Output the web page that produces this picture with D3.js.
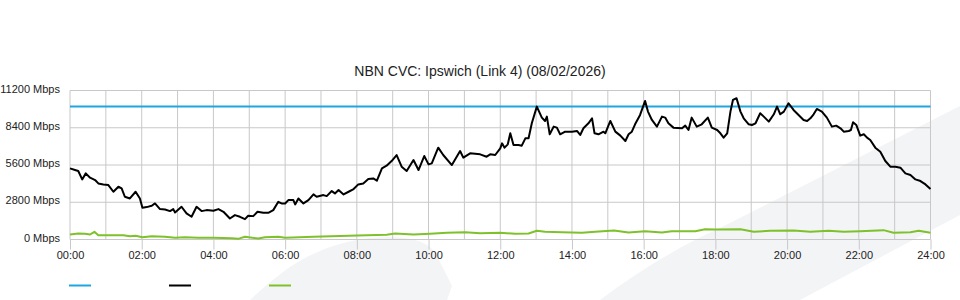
<!DOCTYPE html>
<html>
<head>
<meta charset="utf-8">
<script src="https://cdn.jsdelivr.net/npm/d3@7"></script>
<style>
  body { margin: 0; background: #fff; }
  svg { display: block; font-family: "Liberation Sans", Arial, sans-serif; }
</style>
</head>
<body>
<div class="chart"></div>
<script>
// link capacity (flat)
const capTimes = [0, 24];
const capMbps = [10000, 10000];

// download traffic, hours -> Mbps
const dlTimes = [0, 0.14, 0.23, 0.34, 0.44, 0.56, 0.70, 0.79, 0.93, 1.07, 1.21, 1.35, 1.44, 1.53, 1.67, 1.83, 1.95,
  2.02, 2.14, 2.28, 2.37, 2.51, 2.65, 2.79, 2.88, 2.93, 3.11, 3.25, 3.39, 3.53, 3.67, 3.81, 4.0, 4.14, 4.28, 4.46,
  4.6, 4.74, 4.88, 4.97, 5.11, 5.23, 5.39, 5.53, 5.67, 5.81, 5.9, 6.0, 6.09, 6.23, 6.28, 6.37, 6.51, 6.65, 6.79,
  6.88, 7.07, 7.16, 7.3, 7.39, 7.49, 7.63, 7.77, 7.91, 8.04, 8.18, 8.32, 8.46, 8.56, 8.7, 8.83, 8.97, 9.11, 9.25,
  9.39, 9.58, 9.72, 9.88, 10.0, 10.09, 10.27, 10.41, 10.65, 10.88, 10.97, 11.16, 11.44, 11.62, 11.72, 11.86,
  12.0, 12.05, 12.12, 12.21, 12.28, 12.37, 12.51, 12.6, 12.7, 12.79, 12.88, 13.02, 13.16, 13.25, 13.3, 13.38,
  13.49, 13.58, 13.67, 13.81, 14.0, 14.14, 14.23, 14.32, 14.46, 14.56, 14.63, 14.74, 14.88, 14.93, 15.07, 15.21,
  15.35, 15.49, 15.58, 15.67, 15.76, 15.9, 16.04, 16.12, 16.23, 16.37, 16.51, 16.6, 16.69, 16.83, 17.07, 17.16,
  17.25, 17.34, 17.48, 17.62, 17.79, 17.9, 18.05, 18.14, 18.23, 18.33, 18.42, 18.49, 18.59, 18.7, 18.79, 18.93,
  19.02, 19.12, 19.25, 19.35, 19.49, 19.63, 19.72, 19.81, 19.91, 20.04, 20.18, 20.32, 20.46, 20.56, 20.65, 20.74,
  20.83, 20.97, 21.11, 21.25, 21.37, 21.49, 21.58, 21.72, 21.78, 21.84, 21.93, 22.04, 22.14, 22.23, 22.32, 22.46,
  22.6, 22.74, 22.88, 23.02, 23.16, 23.3, 23.44, 23.58, 23.72, 23.86, 24.0];
const dlMbps = [5346, 5221, 5146, 4518, 4970, 4644, 4468, 4217, 4142, 4091, 3589, 3966, 3840, 3213, 3087, 3589, 3087,
  2384, 2435, 2535, 2711, 2284, 2259, 2134, 2284, 2033, 2460, 1958, 1707, 2460, 2134, 2209, 2159, 2284, 2083, 1581,
  1832, 1707, 1531, 1782, 1757, 2083, 2008, 2008, 2209, 2836, 2711, 2711, 2962, 2962, 2636, 3087, 2711, 2962, 3389,
  3213, 3338, 3263, 3640, 3464, 3715, 3389, 3589, 3790, 4142, 4217, 4543, 4593, 4418, 5346, 5547, 5899, 6350, 5472,
  5146, 5974, 5221, 6275, 5648, 5723, 6903, 6350, 5597, 6652, 6150, 6476, 6400, 6225, 6400, 6350,
  6852, 7229, 6903, 7154, 7982, 7103, 7103, 7053, 7605, 7605, 8735, 9990, 9162, 8911, 9237, 7907,
  8484, 8409, 7907, 8107, 8107, 8158, 7856, 8358, 8735, 9111, 7982, 7907, 8107, 7982, 8911, 8107,
  7806, 7405, 7907, 8107, 8660, 9362, 10417, 9613, 8986, 8484, 9237, 9162, 8735, 8409, 8358, 8559,
  8233, 9162, 8484, 8660, 9162, 8409, 8233, 7982, 7656, 7982, 9613, 10492, 10617, 9613, 9111, 8660,
  8609, 8735, 9488, 9237, 8860, 9413, 9990, 9413, 9613, 10241, 9739, 9362, 8986, 8911, 9111, 9413,
  9814, 9613, 9162, 8484, 8559, 8358, 8107, 8158, 8233, 8810, 8609, 7806, 7907, 7656, 7480, 6903,
  6601, 5899, 5472, 5472, 5397, 4970, 4844, 4518, 4393, 4142, 3790];

// upload traffic, hours -> Mbps
const ulTimes = [0, 0.23, 0.42, 0.56, 0.68, 0.79, 1.07, 1.49, 1.67, 1.83, 2.02, 2.28, 2.65, 2.93, 3.2, 3.58, 4.0,
  4.51, 4.69, 4.88, 5.25, 5.44, 5.81, 6.0, 6.79, 8.02, 8.83, 9.07, 9.58, 10.04, 10.51, 11.02, 11.44, 12.0, 12.42,
  12.79, 13.02, 13.25, 13.72, 14.28, 14.65, 15.17, 15.58, 16.04, 16.51, 16.78, 17.44, 17.71, 17.99, 18.7, 19.07,
  19.53, 20.18, 20.65, 21.16, 21.58, 22.04, 22.69, 22.97, 23.44, 23.67, 24.0];
const ulMbps = [376, 452, 427, 376, 577, 326, 326, 326, 251, 276, 176, 251, 201, 125, 176, 125, 125,
  100, 50, 201, 75, 176, 201, 140, 201, 301, 351, 452, 376, 427, 502, 552, 477, 502, 427,
  452, 653, 577, 552, 502, 577, 678, 527, 627, 527, 627, 627, 778, 753, 778, 577,
  653, 678, 577, 653, 577, 627, 703, 502, 552, 653, 502];

const yTicks = [0, 2800, 5600, 8400, 11200];
const xTicks = [0, 2, 4, 6, 8, 10, 12, 14, 16, 18, 20, 22, 24];
const title = "NBN CVC: Ipswich (Link 4) (08/02/2026)";

const series = [
  { key: "capacity", color: "#1ea6e0", t: capTimes, v: capMbps },
  { key: "download", color: "#000000", t: dlTimes, v: dlMbps },
  { key: "upload", color: "#7ec12b", t: ulTimes, v: ulMbps }
];

const width = 960, height = 300;
const x = d3.scaleLinear().domain([0, 24]).range([70, 930.5]);
const y = d3.scaleLinear().domain([0, 11200]).range([239.5, 90.5]);

const svg = d3.select('.chart').append('svg')
  .attr('width', width).attr('height', height);

// faint watermark shapes in the background
svg.append('path')
  .attr('d', 'M250,300 C280,272 312,245 370,238 C408,235 425,240 435,252 L452,286 L447,300 Z')
  .attr('fill', '#f3f4f6');
svg.append('path')
  .attr('d', 'M600,300 C640,270 680,246 720,228 L960,106 L960,215 L800,300 Z')
  .attr('fill', '#f3f4f6');

// vertical grid every hour
svg.append('g')
  .selectAll('line')
  .data(d3.range(0, 25))
  .join('line')
    .attr('x1', d => x(d)).attr('x2', d => x(d))
    .attr('y1', y(11200)).attr('y2', y(0))
    .attr('stroke', '#c8c8c8').attr('stroke-width', 1);

// horizontal grid
svg.append('g')
  .selectAll('line')
  .data(yTicks)
  .join('line')
    .attr('x1', x(0)).attr('x2', x(24))
    .attr('y1', d => y(d)).attr('y2', d => y(d))
    .attr('stroke', '#c8c8c8').attr('stroke-width', 1);

svg.append('g')
  .attr('transform', `translate(${x(0)},0)`)
  .call(d3.axisLeft(y).tickValues(yTicks).tickSize(0).tickPadding(10).tickFormat(d => `${d} Mbps`))
  .call(g => g.select('.domain').remove())
  .call(g => g.selectAll('text')
    .attr('dy', '0.15em')
    .attr('fill', '#222')
    .attr('font-size', '11px')
    .attr('font-family', '"Liberation Sans", Arial, sans-serif'));

svg.append('g')
  .attr('transform', `translate(0,${y(0)})`)
  .call(d3.axisBottom(x).tickValues(xTicks).tickSize(10).tickPadding(2)
    .tickFormat(d => String(d).padStart(2, '0') + ':00'))
  .call(g => g.select('.domain').remove())
  .call(g => g.selectAll('.tick line').attr('stroke', '#c8c8c8'))
  .call(g => g.selectAll('text')
    .attr('fill', '#222')
    .attr('font-size', '11px')
    .attr('font-family', '"Liberation Sans", Arial, sans-serif'));

const line = d3.line()
  .x(d => x(d[0]))
  .y(d => y(d[1]));

svg.append('g')
  .selectAll('path')
  .data(series)
  .join('path')
    .attr('fill', 'none')
    .attr('stroke', d => d.color)
    .attr('stroke-width', 2)
    .attr('stroke-linejoin', 'round')
    .attr('d', d => line(d.t.map((t, i) => [t, d.v[i]])));

svg.append('text')
  .attr('x', 480)
  .attr('y', 76)
  .attr('text-anchor', 'middle')
  .attr('font-size', '14px')
  .attr('fill', '#222')
  .text(title);

// legend swatches (no labels in the source)
svg.append('g')
  .selectAll('line')
  .data(series)
  .join('line')
    .attr('x1', (d, i) => 69 + i * 100)
    .attr('x2', (d, i) => 91 + i * 100)
    .attr('y1', 285.5).attr('y2', 285.5)
    .attr('stroke', d => d.color)
    .attr('stroke-width', 2);
</script>
</body>
</html>
